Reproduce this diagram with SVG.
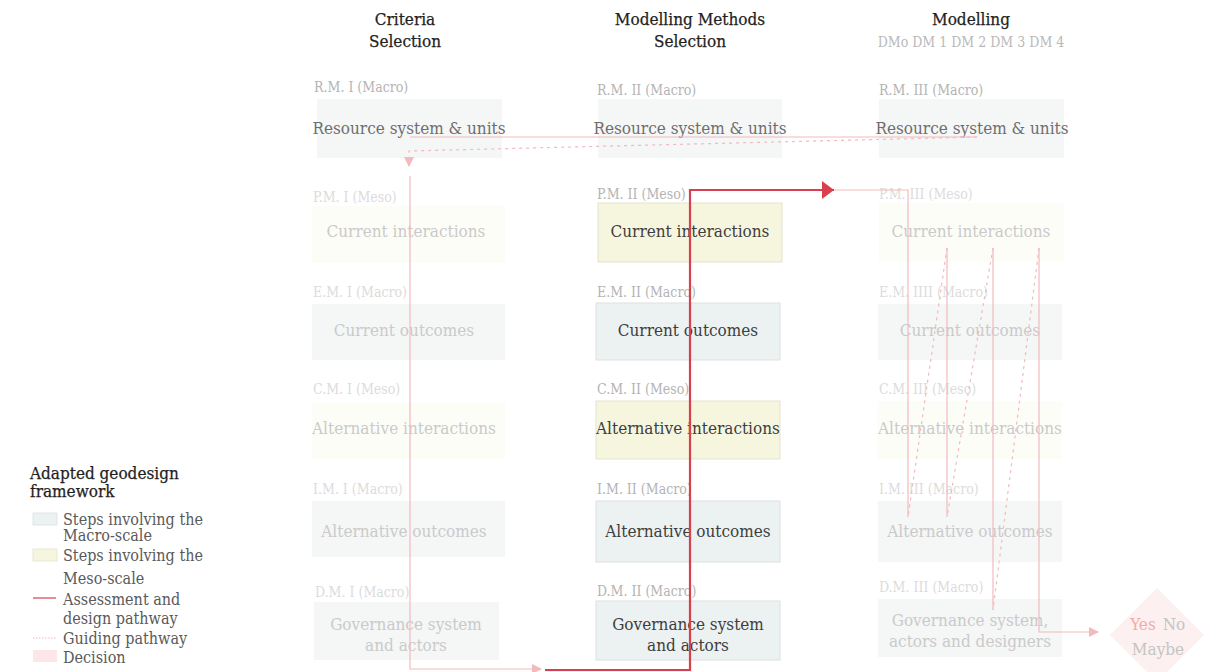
<svg xmlns="http://www.w3.org/2000/svg" width="1223" height="672" viewBox="0 0 1223 672">
  <defs>
    <style>
      text { font-family: "DejaVu Serif Condensed", "Liberation Serif", serif; }
      .head { font-size: 17px; fill: #1f1f1f; text-anchor: middle; stroke: #1f1f1f; stroke-width: 0.25; }
      .sub { font-size: 14px; fill: #b9b9b9; text-anchor: middle; }
      .lbl { font-size: 14px; }
      .lbl-dim { fill: #dcdcdc; }
      .lbl-mid { fill: #b4b4b4; }
      .txt { font-size: 17px; text-anchor: middle; }
      .txt-dim { fill: #cacaca; }
      .txt-mid { fill: #6e6e6e; }
      .txt-dark { fill: #3e3e3e; }
      .macro-dim { fill: #f5f6f6; }
      .meso-dim { fill: #fdfdf7; }
      .macro { fill: #ecf1f1; stroke: #dde2e2; stroke-width: 1; }
      .meso { fill: #f6f6df; stroke: #e4e4cf; stroke-width: 1; }
      .red { fill: none; stroke: #d7404c; stroke-width: 2.2; }
      .pink { fill: none; stroke: #f2b9be; stroke-width: 1.2; }
      .pink-dot { fill: none; stroke: #f2b9be; stroke-width: 1.2; stroke-dasharray: 3 4; }
      .leg { font-size: 16px; fill: #5a5a5a; }
      .leg-head { font-size: 17px; fill: #1f1f1f; stroke: #1f1f1f; stroke-width: 0.25; }
    </style>
    <marker id="arrow-red" viewBox="0 0 12 18" refX="12" refY="9" markerWidth="12" markerHeight="18" markerUnits="userSpaceOnUse" orient="auto">
      <path d="M0,0 L12,9 L0,18 z" fill="#d7404c"/>
    </marker>
    <marker id="arrow-pink" viewBox="0 0 10 10" refX="9" refY="5" markerWidth="10" markerHeight="10" markerUnits="userSpaceOnUse" orient="auto">
      <path d="M0,0 L10,5 L0,10 z" fill="#f2b9be"/>
    </marker>
  </defs>

  <rect width="1223" height="672" fill="#ffffff"/>

  <!-- column headings -->
  <g id="headings">
    <text class="head" x="405" y="25">Criteria</text>
    <text class="head" x="405" y="47">Selection</text>
    <text class="head" x="690" y="25">Modelling Methods</text>
    <text class="head" x="690" y="47">Selection</text>
    <text class="head" x="971" y="25">Modelling</text>
    <text class="sub" x="971" y="47">DMo DM 1 DM 2 DM 3 DM 4</text>
  </g>

  <!-- column I : criteria selection -->
  <g id="rm1">
    <text class="lbl lbl-mid" x="314" y="92">R.M. I (Macro)</text>
    <rect class="macro-dim" x="317" y="99" width="185" height="59"/>
    <text class="txt txt-mid" x="409" y="134">Resource system &amp; units</text>
  </g>
  <g id="pm1">
    <text class="lbl lbl-dim" x="313" y="202">P.M. I (Meso)</text>
    <rect class="meso-dim" x="312" y="206" width="193" height="57"/>
    <text class="txt txt-dim" x="406" y="237">Current interactions</text>
  </g>
  <g id="em1">
    <text class="lbl lbl-dim" x="313" y="297">E.M. I (Macro)</text>
    <rect class="macro-dim" x="312" y="304" width="193" height="56"/>
    <text class="txt txt-dim" x="404" y="336">Current outcomes</text>
  </g>
  <g id="cm1">
    <text class="lbl lbl-dim" x="313" y="394">C.M. I  (Meso)</text>
    <rect class="meso-dim" x="312" y="403" width="193" height="56"/>
    <text class="txt txt-dim" x="404" y="434">Alternative interactions</text>
  </g>
  <g id="im1">
    <text class="lbl lbl-dim" x="313" y="494">I.M. I (Macro)</text>
    <rect class="macro-dim" x="312" y="501" width="193" height="56"/>
    <text class="txt txt-dim" x="404" y="537">Alternative outcomes</text>
  </g>
  <g id="dm1">
    <text class="lbl lbl-dim" x="315" y="597">D.M. I (Macro)</text>
    <rect class="macro-dim" x="314" y="602" width="185" height="58"/>
    <text class="txt txt-dim" x="406" y="630">Governance system</text>
    <text class="txt txt-dim" x="406" y="651">and actors</text>
  </g>

  <!-- column II : modelling methods selection -->
  <g id="rm2">
    <text class="lbl lbl-mid" x="597" y="95">R.M. II (Macro)</text>
    <rect class="macro-dim" x="598" y="99" width="184" height="59"/>
    <text class="txt txt-mid" x="690" y="134">Resource system &amp; units</text>
  </g>
  <g id="pm2">
    <text class="lbl lbl-mid" x="597" y="199">P.M. II  (Meso)</text>
    <rect class="meso" x="598" y="203" width="184" height="59"/>
    <text class="txt txt-dark" x="690" y="237">Current interactions</text>
  </g>
  <g id="em2">
    <text class="lbl lbl-mid" x="597" y="297">E.M. II  (Macro)</text>
    <rect class="macro" x="596" y="303" width="184" height="57"/>
    <text class="txt txt-dark" x="688" y="336">Current outcomes</text>
  </g>
  <g id="cm2">
    <text class="lbl lbl-mid" x="597" y="394">C.M. II (Meso)</text>
    <rect class="meso" x="596" y="401" width="184" height="58"/>
    <text class="txt txt-dark" x="688" y="434">Alternative interactions</text>
  </g>
  <g id="im2">
    <text class="lbl lbl-mid" x="597" y="494">I.M. II (Macro)</text>
    <rect class="macro" x="596" y="501" width="184" height="61"/>
    <text class="txt txt-dark" x="688" y="537">Alternative outcomes</text>
  </g>
  <g id="dm2">
    <text class="lbl lbl-mid" x="597" y="596">D.M. II (Macro)</text>
    <rect class="macro" x="596" y="601" width="184" height="59"/>
    <text class="txt txt-dark" x="688" y="630">Governance system</text>
    <text class="txt txt-dark" x="688" y="651">and actors</text>
  </g>

  <!-- column III : modelling -->
  <g id="rm3">
    <text class="lbl lbl-mid" x="879" y="95">R.M. III (Macro)</text>
    <rect class="macro-dim" x="879" y="99" width="185" height="59"/>
    <text class="txt txt-mid" x="972" y="134">Resource system &amp; units</text>
  </g>
  <g id="pm3">
    <text class="lbl lbl-dim" x="879" y="199">P.M. III (Meso)</text>
    <rect class="meso-dim" x="879" y="203" width="185" height="59"/>
    <text class="txt txt-dim" x="971" y="237">Current interactions</text>
  </g>
  <g id="em3">
    <text class="lbl lbl-dim" x="879" y="297">E.M. IIII (Macro)</text>
    <rect class="macro-dim" x="878" y="304" width="184" height="56"/>
    <text class="txt txt-dim" x="970" y="336">Current outcomes</text>
  </g>
  <g id="cm3">
    <text class="lbl lbl-dim" x="879" y="394">C.M. III  (Meso)</text>
    <rect class="meso-dim" x="878" y="401" width="184" height="58"/>
    <text class="txt txt-dim" x="970" y="434">Alternative interactions</text>
  </g>
  <g id="im3">
    <text class="lbl lbl-dim" x="879" y="494">I.M. III (Macro)</text>
    <rect class="macro-dim" x="878" y="501" width="184" height="61"/>
    <text class="txt txt-dim" x="970" y="537">Alternative outcomes</text>
  </g>
  <g id="dm3">
    <text class="lbl lbl-dim" x="879" y="592">D.M. III (Macro)</text>
    <rect class="macro-dim" x="878" y="599" width="184" height="58"/>
    <text class="txt txt-dim" x="970" y="626">Governance system,</text>
    <text class="txt txt-dim" x="970" y="647">actors and designers</text>
  </g>

  <!-- decision -->
  <g id="decision">
    <path d="M1157,588 L1204,635 L1157,682 L1110,635 Z" fill="#fcf0f0"/>
    <text class="txt" x="1143" y="630" style="fill:#f4aaaa">Yes</text>
    <text class="txt" x="1174" y="630" style="fill:#c4c4c4">No</text>
    <text class="txt" x="1158" y="655" style="fill:#c4c4c4">Maybe</text>
  </g>

  <!-- connectors -->
  <g id="connectors">
    <!-- feedback from modelling back to criteria -->
    <path class="pink" d="M977,137 L410,137"/>
    <path class="pink-dot" d="M977,137 L409,151 L409,166" marker-end="url(#arrow-pink)"/>
    <!-- assessment and design pathway -->
    <path class="pink" d="M410,176 L410,669 L541,669" marker-end="url(#arrow-pink)"/>
    <path class="red" d="M545,670 L690,670 L690,190 L834,190" marker-end="url(#arrow-red)"/>
    <path class="pink" d="M834,190 L908,190 L908,517"/>
    <!-- modelling iterations -->
    <path class="pink" d="M947,248 L947,517"/>
    <path class="pink" d="M993,248 L993,610"/>
    <path class="pink" d="M1039,248 L1039,632 L1098,632" marker-end="url(#arrow-pink)"/>
    <path class="pink-dot" d="M947,248 L908,517"/>
    <path class="pink-dot" d="M993,248 L947,517"/>
    <path class="pink-dot" d="M1039,248 L993,610"/>
  </g>

  <!-- legend -->
  <g id="legend">
    <text class="leg-head" x="30" y="479">Adapted geodesign</text>
    <text class="leg-head" x="30" y="497">framework</text>
    <rect x="33" y="513" width="24" height="12" fill="#ecf1f1" stroke="#dde2e2" stroke-width="0.8"/>
    <text class="leg" x="63" y="525">Steps involving the</text>
    <text class="leg" x="63" y="541">Macro-scale</text>
    <rect x="33" y="549" width="24" height="12" fill="#f6f6df" stroke="#e4e4cf" stroke-width="0.8"/>
    <text class="leg" x="63" y="561">Steps involving the</text>
    <text class="leg" x="63" y="584">Meso-scale</text>
    <line x1="33" y1="598" x2="56" y2="598" stroke="#d7404c" stroke-width="1.2"/>
    <text class="leg" x="63" y="605">Assessment and</text>
    <text class="leg" x="63" y="624">design pathway</text>
    <line x1="33" y1="638" x2="56" y2="638" stroke="#e9a6ab" stroke-width="0.8" stroke-dasharray="1.5 1.5"/>
    <text class="leg" x="63" y="644">Guiding pathway</text>
    <rect x="33" y="650" width="24" height="12" fill="#fbe7e8"/>
    <text class="leg" x="63" y="663">Decision</text>
  </g>
</svg>
